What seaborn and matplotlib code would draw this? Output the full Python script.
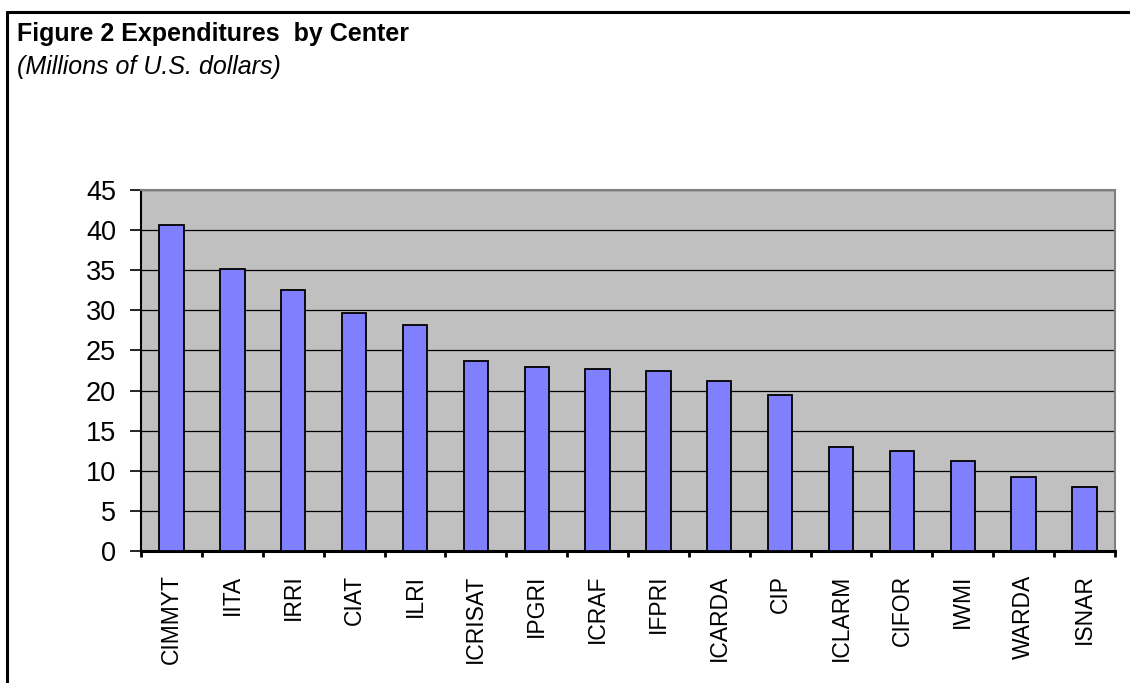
import numpy as np
import pandas as pd
import matplotlib
matplotlib.use("Agg")
import matplotlib.pyplot as plt
import seaborn as sns
from matplotlib.lines import Line2D

# data
centers = ["CIMMYT", "IITA", "IRRI", "CIAT", "ILRI", "ICRISAT", "IPGRI", "ICRAF",
           "IFPRI", "ICARDA", "CIP", "ICLARM", "CIFOR", "IWMI", "WARDA", "ISNAR"]
expenditures = [40.7, 35.2, 32.5, 29.7, 28.2, 23.7, 22.95, 22.7,
                22.45, 21.2, 19.5, 13.0, 12.5, 11.2, 9.2, 8.0]
y_ticks = [0, 5, 10, 15, 20, 25, 30, 35, 40, 45]

df = pd.DataFrame({"Center": centers, "Expenditure": expenditures})

sns.set_style("white")
plt.rcParams["font.family"] = ["Liberation Sans", "DejaVu Sans"]
plt.rcParams["text.color"] = "black"
plt.rcParams["xtick.color"] = "black"
plt.rcParams["ytick.color"] = "black"

fig = plt.figure(figsize=(11.3, 6.83), dpi=100)
ax = fig.add_axes([0.1248, 0.1933, 0.8619, 0.5285])
ax.set_facecolor("#C0C0C0")

sns.barplot(data=df, x="Center", y="Expenditure", order=centers,
            color="#8080FF", saturation=1, width=0.4,
            edgecolor="black", linewidth=1.3, ax=ax, zorder=3)

ax.set_ylim(0, 45)
ax.set_xlim(-0.5, len(centers) - 0.5)
ax.set_yticks(y_ticks)
ax.yaxis.grid(True, color="black", linewidth=0.9, zorder=0)
ax.set_axisbelow(True)
ax.tick_params(axis="y", direction="out", length=8, width=1.2, pad=10,
               labelsize=19.5, left=True)

# x ticks sit between categories, labels sit under the bars
ax.set_xticks(np.arange(len(centers)))
ax.set_xticklabels(centers, rotation=90, fontsize=16.5)
ax.set_xticks(np.arange(-0.5, len(centers)), minor=True)
ax.tick_params(axis="x", which="major", length=0, pad=17)
ax.tick_params(axis="x", which="minor", direction="out", length=4.5,
               width=2, bottom=True)

ax.set_xlabel("")
ax.set_ylabel("")

for side in ["top", "right"]:
    ax.spines[side].set_color("#808080")
    ax.spines[side].set_linewidth(1.5)
ax.spines["left"].set_color("black")
ax.spines["left"].set_linewidth(1.5)
ax.spines["bottom"].set_color("black")
ax.spines["bottom"].set_linewidth(2.2)

fig.text(17 / 1130, 1 - 22 / 683, "Figure 2 Expenditures  by Center",
         fontsize=18, fontweight="bold", va="top", ha="left")
fig.text(17 / 1130, 1 - 55 / 683, "(Millions of U.S. dollars)",
         fontsize=18, style="italic", va="top", ha="left")

# frame around the exhibit (only top and left edges visible)
fig.add_artist(Line2D([0.0058, 1], [1 - 12 / 683, 1 - 12 / 683],
                      color="black", linewidth=2.2, transform=fig.transFigure))
fig.add_artist(Line2D([0.0058, 0.0058], [0, 1 - 12 / 683],
                      color="black", linewidth=2.2, transform=fig.transFigure))

fig.savefig("out.png", dpi=100, facecolor="white")
plt.close(fig)
